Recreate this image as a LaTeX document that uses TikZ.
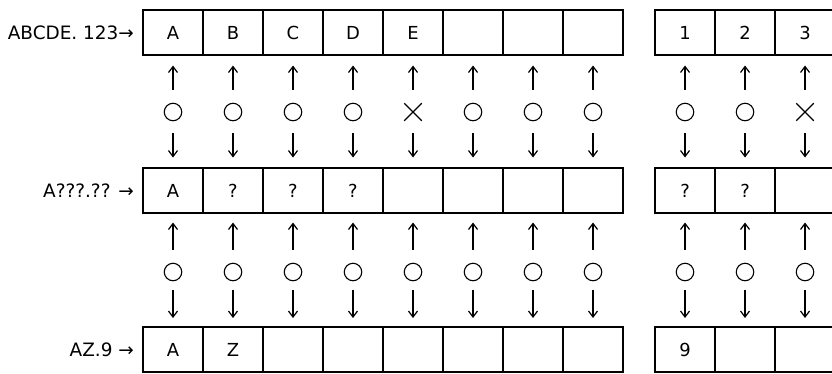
\documentclass[tikz,border=0pt]{standalone}
\usepackage{fontspec}
\setmainfont{DejaVu Sans}
\usetikzlibrary{arrows.meta,shapes.misc}
\begin{document}
\begin{tikzpicture}[x=1bp,y=-1bp,
  cell/.style={minimum width=60bp,minimum height=45bp,inner sep=0pt,outer sep=0pt,font=\fontsize{18}{20}\selectfont},
  frame/.style={draw,line width=1.6bp,line join=miter},
  sep/.style={draw,line width=1.6bp},
  ok/.style={circle,draw,line width=1.1bp,minimum size=17.5bp,inner sep=0pt,outer sep=0pt},
  ng/.style={cross out,draw,line width=1.1bp,minimum size=11.5bp,inner sep=0pt,outer sep=3bp},
  flow/.style={line width=1.2bp,-{Straight Barb[length=6bp,width=9bp]}},
  lbl/.style={anchor=east,font=\fontsize{18.5}{20}\selectfont,inner sep=0pt}]
\useasboundingbox (0,0) rectangle (832,373);
% row 1
\foreach \t [count=\i] in {A,B,C,D,E,{},{},{},1,2,3} {
  \pgfmathsetmacro\xc{\i<9 ? 173+(\i-1)*60 : 685+(\i-9)*60}
  \node[cell] (p\i) at (\xc,32.5) {\t};
}
% row 2
\foreach \t [count=\i] in {A,?,?,?,{},{},{},{},?,?,{}} {
  \pgfmathsetmacro\xc{\i<9 ? 173+(\i-1)*60 : 685+(\i-9)*60}
  \node[cell] (q\i) at (\xc,190.5) {\t};
}
% row 3
\foreach \t [count=\i] in {A,Z,{},{},{},{},{},{},9,{},{}} {
  \pgfmathsetmacro\xc{\i<9 ? 173+(\i-1)*60 : 685+(\i-9)*60}
  \node[cell] (r\i) at (\xc,349.5) {\t};
}
% frames and separators
\foreach \r in {p,q,r} {
  \draw[frame] (\r1.north west) rectangle (\r8.south east);
  \draw[frame] (\r9.north west) rectangle (\r11.south east);
  \foreach \i in {1,...,7,9,10} {
    \draw[sep] (\r\i.north east) -- (\r\i.south east);
  }
}
% marks row A
\foreach \s [count=\i] in {ok,ok,ok,ok,ng,ok,ok,ok,ok,ok,ng} {
  \pgfmathsetmacro\xc{\i<9 ? 173+(\i-1)*60 : 685+(\i-9)*60}
  \node[\s] (m\i) at (\xc,112) {};
  \draw[flow,shorten <=13.5bp,shorten >=10.5bp] (m\i) -- (p\i);
  \draw[flow,shorten <=12.5bp,shorten >=10.5bp] (m\i) -- (q\i);
}
% marks row B
\foreach \i in {1,...,11} {
  \pgfmathsetmacro\xc{\i<9 ? 173+(\i-1)*60 : 685+(\i-9)*60}
  \node[ok] (n\i) at (\xc,272) {};
  \draw[flow,shorten <=13.5bp,shorten >=9.5bp] (n\i) -- (q\i);
  \draw[flow,shorten <=9.5bp,shorten >=9bp] (n\i) -- (r\i);
}
% labels
\node[lbl] (l1) at (134,32.5) {ABCDE. 123→};
\node[lbl] (l2) at (134,190.5) {A???.?? →};
\node[lbl] (l3) at (134,349.5) {AZ.9 →};
\end{tikzpicture}
\end{document}
